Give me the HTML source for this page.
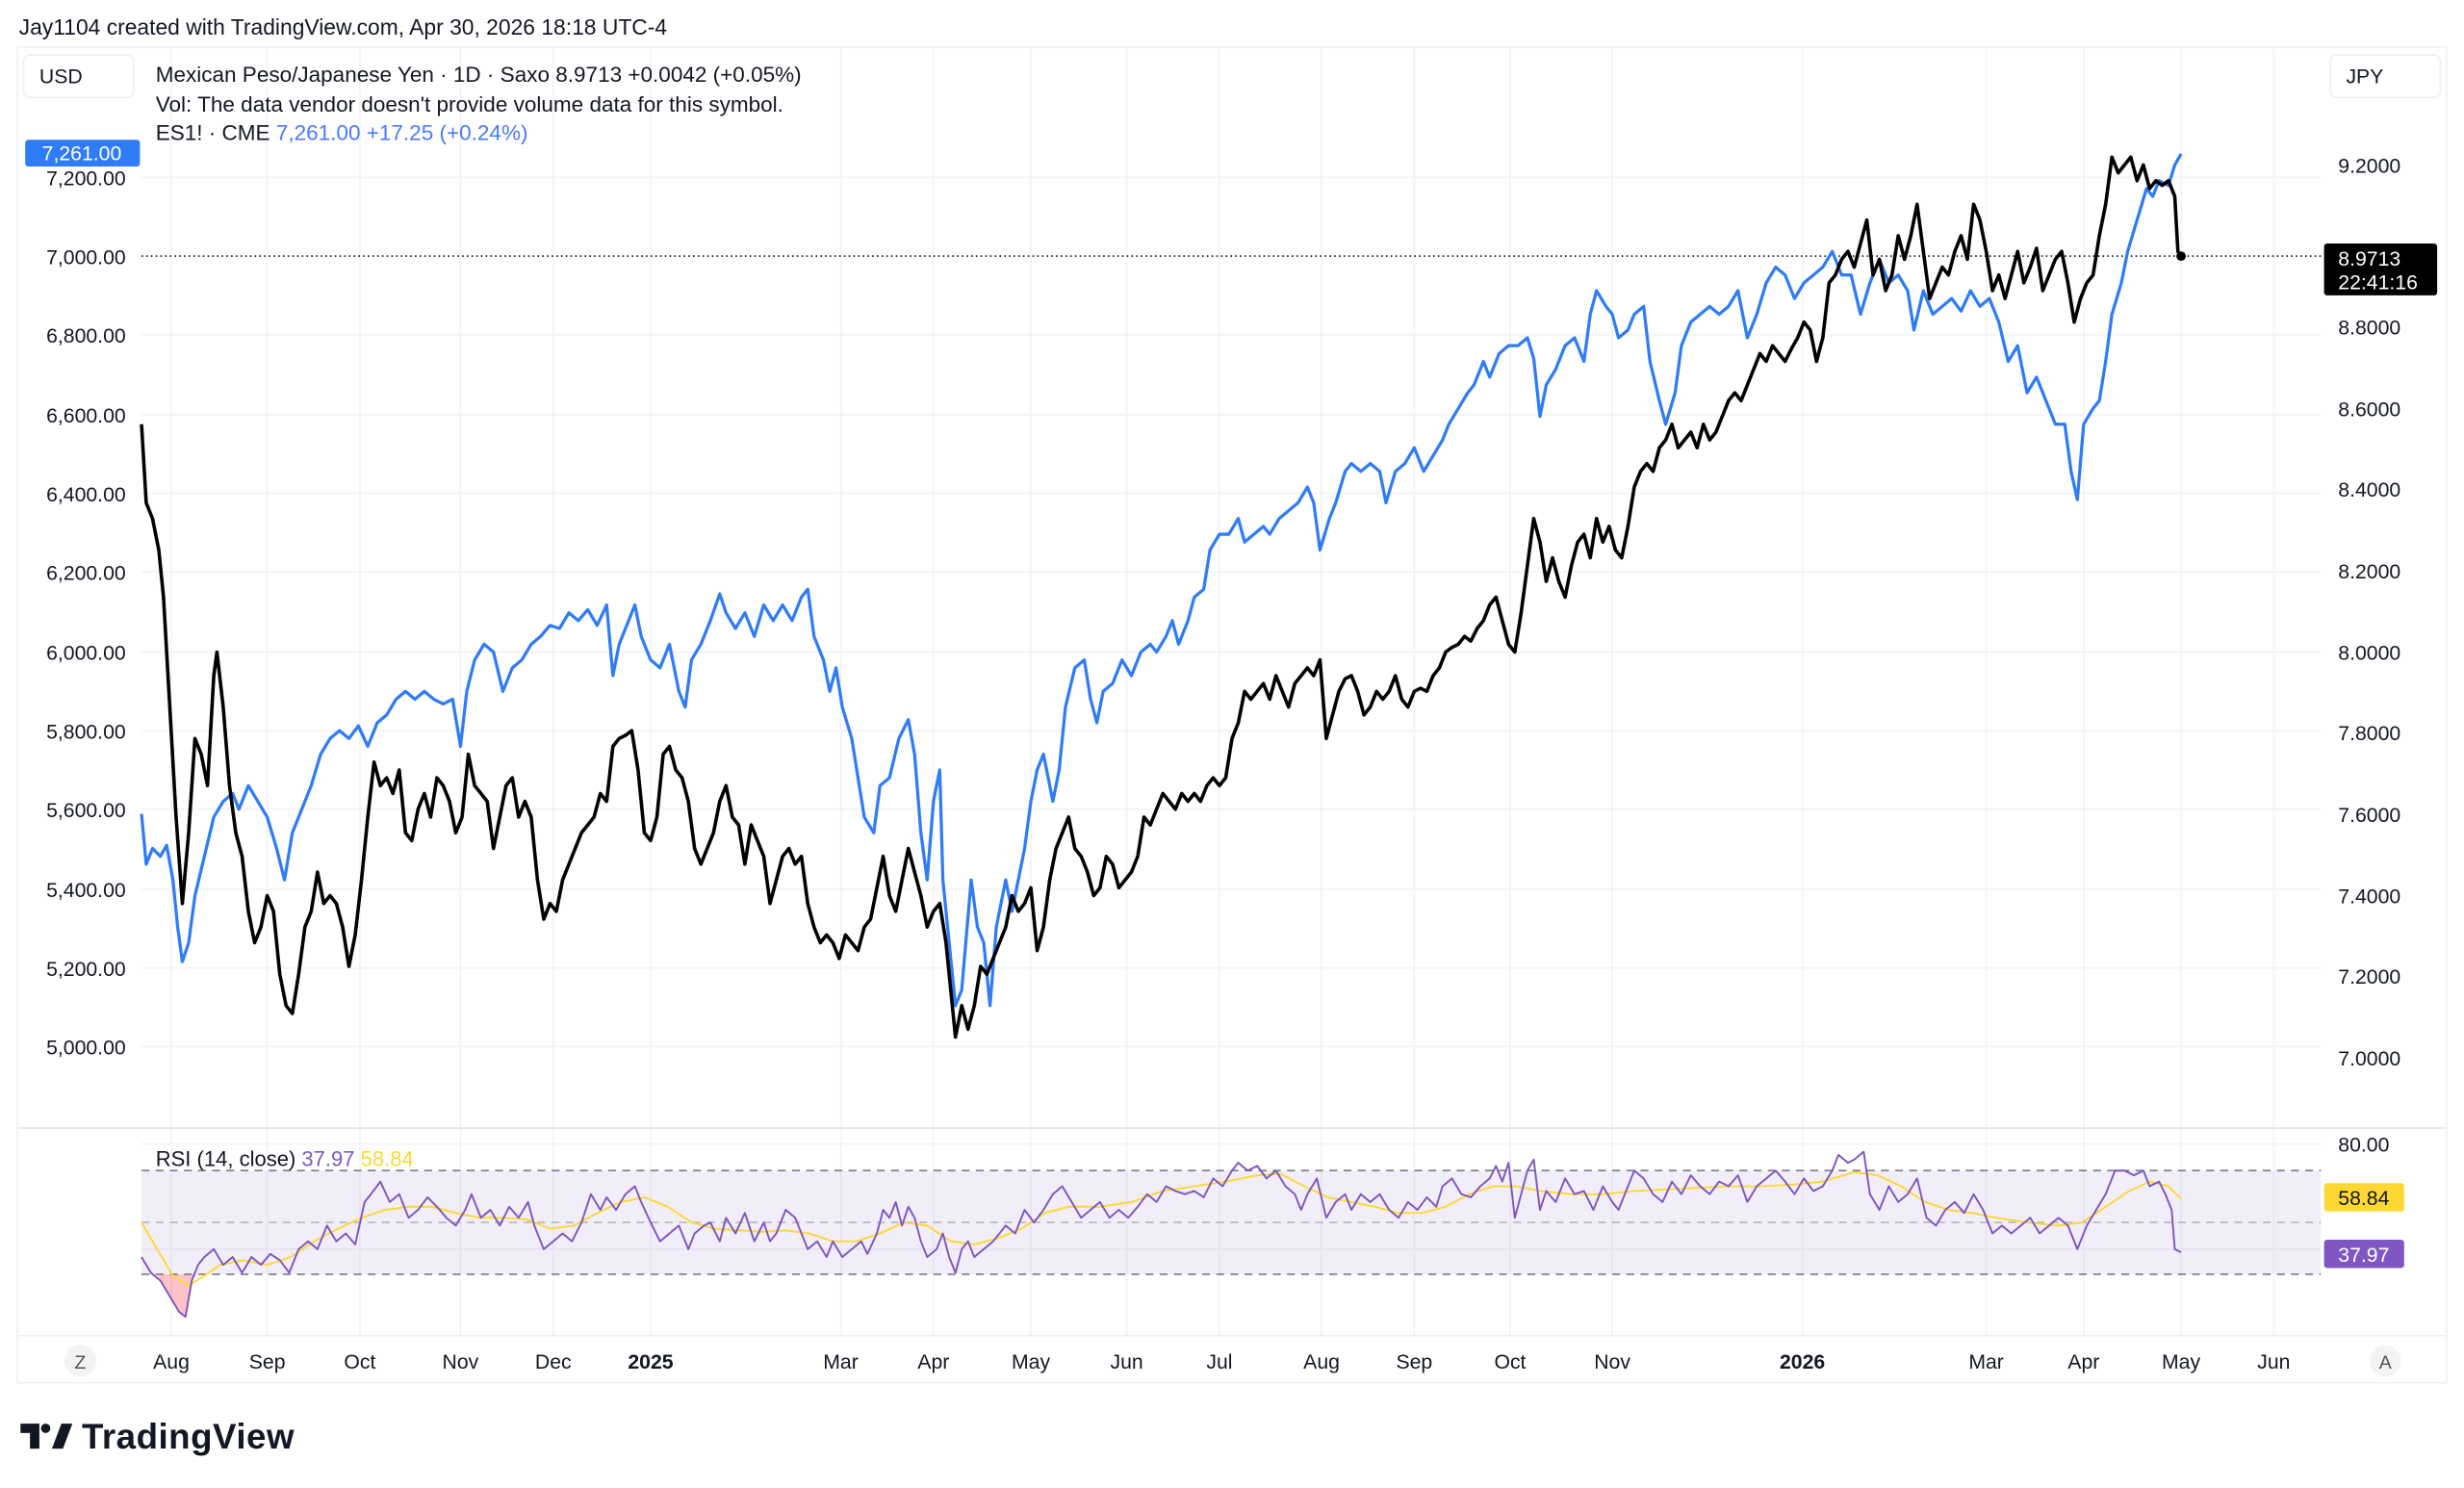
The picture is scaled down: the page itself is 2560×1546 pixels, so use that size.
<!DOCTYPE html>
<html><head><meta charset="utf-8"><style>
html,body{margin:0;padding:0;background:#fff;}
svg{display:block;font-family:"Liberation Sans",sans-serif;}
</style></head><body>
<svg width="2560" height="1546" viewBox="0 0 1568 947" xmlns="http://www.w3.org/2000/svg">
<rect width="1568" height="947" fill="#fff"/>
<text x="12" y="22" font-size="14" fill="#131722">Jay1104 created with TradingView.com, Apr 30, 2026 18:18 UTC-4</text>
<rect x="11" y="30" width="1546" height="850" fill="none" stroke="#eef0f3" stroke-width="1"/>
<g stroke="#f2f3f5" stroke-width="1">
<line x1="109" y1="30" x2="109" y2="850"/><line x1="170" y1="30" x2="170" y2="850"/><line x1="229" y1="30" x2="229" y2="850"/><line x1="293" y1="30" x2="293" y2="850"/><line x1="352" y1="30" x2="352" y2="850"/><line x1="414" y1="30" x2="414" y2="850"/><line x1="535" y1="30" x2="535" y2="850"/><line x1="594" y1="30" x2="594" y2="850"/><line x1="656" y1="30" x2="656" y2="850"/><line x1="717" y1="30" x2="717" y2="850"/><line x1="776" y1="30" x2="776" y2="850"/><line x1="841" y1="30" x2="841" y2="850"/><line x1="900" y1="30" x2="900" y2="850"/><line x1="961" y1="30" x2="961" y2="850"/><line x1="1026" y1="30" x2="1026" y2="850"/><line x1="1147" y1="30" x2="1147" y2="850"/><line x1="1264" y1="30" x2="1264" y2="850"/><line x1="1326" y1="30" x2="1326" y2="850"/><line x1="1388" y1="30" x2="1388" y2="850"/><line x1="1447" y1="30" x2="1447" y2="850"/>
<line x1="90" y1="113" x2="1477" y2="113"/><line x1="90" y1="213" x2="1477" y2="213"/><line x1="90" y1="264" x2="1477" y2="264"/><line x1="90" y1="314" x2="1477" y2="314"/><line x1="90" y1="364" x2="1477" y2="364"/><line x1="90" y1="415" x2="1477" y2="415"/><line x1="90" y1="465" x2="1477" y2="465"/><line x1="90" y1="515" x2="1477" y2="515"/><line x1="90" y1="566" x2="1477" y2="566"/><line x1="90" y1="616" x2="1477" y2="616"/><line x1="90" y1="666" x2="1477" y2="666"/>
<line x1="90" y1="728" x2="1477" y2="728"/><line x1="90" y1="795" x2="1477" y2="795"/>
</g>
<line x1="11" y1="718" x2="1557" y2="718" stroke="#e6e8ec" stroke-width="1.2"/>
<line x1="11" y1="850" x2="1557" y2="850" stroke="#eef0f3" stroke-width="1"/>
<rect x="90" y="745" width="1387" height="66" fill="#7e57c2" fill-opacity="0.1"/>
<g stroke="#787b86" stroke-width="1" stroke-dasharray="5,4">
<line x1="90" y1="745" x2="1477" y2="745"/><line x1="90" y1="811" x2="1477" y2="811"/><line x1="90" y1="778" x2="1477" y2="778" stroke-opacity="0.5"/>
</g>
<path d="M100,811 L108,825 L114,835 L118,838 L122,815 L125,811 Z" fill="#f23645" fill-opacity="0.3"/>
<line x1="90" y1="163" x2="1477" y2="163" stroke="#131722" stroke-width="1" stroke-dasharray="1,2"/>
<g font-size="13" fill="#131722" text-anchor="end">
<text x="80" y="118">7,200.00</text><text x="80" y="168">7,000.00</text><text x="80" y="218">6,800.00</text><text x="80" y="269">6,600.00</text><text x="80" y="319">6,400.00</text><text x="80" y="369">6,200.00</text><text x="80" y="420">6,000.00</text><text x="80" y="470">5,800.00</text><text x="80" y="520">5,600.00</text><text x="80" y="571">5,400.00</text><text x="80" y="621">5,200.00</text><text x="80" y="671">5,000.00</text>
</g>
<g font-size="13" fill="#131722">
<text x="1488" y="110">9.2000</text><text x="1488" y="213">8.8000</text><text x="1488" y="265">8.6000</text><text x="1488" y="316">8.4000</text><text x="1488" y="368">8.2000</text><text x="1488" y="420">8.0000</text><text x="1488" y="471">7.8000</text><text x="1488" y="523">7.6000</text><text x="1488" y="575">7.4000</text><text x="1488" y="626">7.2000</text><text x="1488" y="678">7.0000</text><text x="1488" y="733">80.00</text>
</g>
<rect x="15" y="35" width="70" height="27" rx="4" fill="#fff" stroke="#eef0f3"/>
<text x="25" y="53" font-size="13" fill="#131722">USD</text>
<rect x="1483" y="35" width="70" height="27" rx="4" fill="#fff" stroke="#eef0f3"/>
<text x="1493" y="53" font-size="13" fill="#131722">JPY</text>
<text x="99" y="52" font-size="13.8" fill="#131722">Mexican Peso/Japanese Yen · 1D · Saxo  8.9713  +0.0042 (+0.05%)</text>
<text x="99" y="71" font-size="13.8" fill="#131722">Vol: The data vendor doesn't provide volume data for this symbol.</text>
<text x="99" y="89" font-size="13.8" fill="#131722">ES1! · CME  <tspan fill="#2962ff" fill-opacity="0.85">7,261.00  +17.25 (+0.24%)</tspan></text>
<text x="99" y="742" font-size="13.5" fill="#131722">RSI (14, close)  <tspan fill="#7e57c2">37.97</tspan>  <tspan fill="#fdd835">58.84</tspan></text>
<polyline fill="none" stroke="#2f7cf6" stroke-width="2" stroke-linejoin="round" points="90,518 93,550 97,540 102,545 106,538 110,560 113,590 116,612 120,600 124,570 130,545 136,520 142,510 148,505 152,515 158,500 164,510 170,520 176,540 181,560 186,530 192,515 198,500 204,480 210,470 216,465 222,470 228,462 234,475 240,460 246,455 252,445 258,440 264,445 270,440 276,445 282,448 288,445 293,475 297,440 302,420 308,410 314,415 320,440 326,425 332,420 338,410 344,405 350,398 356,400 362,390 368,395 374,388 380,398 386,385 390,430 394,410 398,400 404,385 408,405 414,420 420,425 426,410 432,440 436,450 440,420 446,410 452,395 458,378 462,390 468,400 474,390 480,405 486,385 492,395 498,385 504,395 510,380 514,375 518,405 524,420 528,440 532,425 536,450 542,470 546,495 550,520 556,530 560,500 566,495 572,470 578,458 582,480 586,530 590,560 594,510 598,490 600,560 604,600 608,640 612,630 618,560 622,590 626,600 630,640 634,590 640,560 644,580 648,560 652,540 656,510 660,490 664,480 670,510 674,490 678,450 684,425 690,420 694,445 698,460 702,440 708,435 714,420 720,430 726,415 732,410 736,415 742,405 746,395 750,410 756,395 760,380 766,375 770,350 776,340 782,340 788,330 792,345 798,340 804,335 808,340 814,330 820,325 826,320 832,310 836,320 840,350 846,330 850,320 856,300 860,295 866,300 872,295 878,300 882,320 888,300 894,295 900,285 906,300 912,290 918,280 922,270 928,260 934,250 938,245 944,230 948,240 954,225 960,220 966,220 972,215 976,228 980,265 984,245 990,235 996,220 1002,215 1008,230 1012,200 1016,185 1022,195 1026,200 1030,215 1036,210 1040,200 1046,195 1050,230 1056,255 1060,270 1066,250 1070,220 1076,205 1082,200 1088,195 1094,200 1100,195 1106,185 1112,215 1118,200 1124,180 1130,170 1136,175 1142,190 1148,180 1154,175 1160,170 1166,160 1172,175 1178,175 1184,200 1190,180 1196,165 1202,180 1208,175 1214,185 1218,210 1224,185 1230,200 1236,195 1242,190 1248,198 1254,185 1260,195 1266,190 1272,205 1278,230 1284,220 1290,250 1296,240 1302,255 1308,270 1314,270 1318,300 1322,318 1326,270 1332,260 1336,255 1340,230 1344,200 1350,180 1354,160 1360,140 1366,120 1370,125 1374,115 1380,118 1384,105 1388,98"/>
<polyline fill="none" stroke="#000" stroke-width="2.2" stroke-linejoin="round" points="90,270 93,320 97,330 101,350 104,380 108,450 112,520 116,575 120,530 124,470 128,480 132,500 136,430 138,415 142,450 146,500 150,530 154,545 158,580 162,600 166,590 170,570 174,580 178,620 182,640 186,645 190,620 194,590 198,580 202,555 206,575 210,570 214,575 218,590 222,615 226,595 230,560 234,520 238,485 242,500 246,495 250,505 254,490 258,530 262,535 266,515 270,505 274,520 278,495 282,500 286,510 290,530 294,520 298,480 302,500 306,505 310,510 314,540 318,520 322,500 326,495 330,520 334,510 338,520 342,560 346,585 350,575 354,580 358,560 362,550 366,540 370,530 374,525 378,520 382,505 386,510 390,475 394,470 398,468 402,465 406,490 410,530 414,535 418,520 422,480 426,475 430,490 434,495 438,510 442,540 446,550 450,540 454,530 458,510 462,500 466,520 470,525 474,550 478,525 482,535 486,545 490,575 494,560 498,545 502,540 506,550 510,545 514,575 518,590 522,600 526,595 530,600 534,610 538,595 542,600 546,605 550,590 554,585 558,565 562,545 566,570 570,580 574,560 578,540 582,555 586,570 590,590 594,580 598,575 602,600 606,640 608,660 612,640 616,655 620,640 624,615 628,620 632,610 636,600 640,590 644,570 648,580 652,575 656,565 660,605 664,590 668,560 672,540 676,530 680,520 684,540 688,545 692,555 696,570 700,565 704,545 708,550 712,565 716,560 720,555 724,545 728,520 732,525 736,515 740,505 744,510 748,515 752,505 756,510 760,505 764,510 768,500 772,495 776,500 780,495 784,470 788,460 792,440 796,445 800,440 804,435 808,445 812,430 816,440 820,450 824,435 828,430 832,425 836,430 840,420 844,470 848,455 852,440 856,432 860,430 864,440 868,455 872,450 876,440 880,445 884,440 888,430 892,445 896,450 900,440 904,438 908,440 912,430 916,425 920,415 924,412 928,410 932,405 936,408 940,400 944,395 948,385 952,380 956,395 960,410 964,415 968,390 972,360 976,330 980,345 984,370 988,355 992,370 996,380 1000,360 1004,345 1008,340 1012,355 1016,330 1020,345 1024,335 1028,350 1032,355 1036,335 1040,310 1044,300 1048,295 1052,300 1056,285 1060,280 1064,270 1068,285 1072,280 1076,275 1080,285 1084,270 1088,280 1092,275 1096,265 1100,255 1104,250 1108,255 1112,245 1116,235 1120,225 1124,230 1128,220 1132,225 1136,230 1140,222 1144,215 1148,205 1152,210 1156,230 1160,215 1164,180 1168,175 1172,165 1176,160 1180,170 1184,155 1188,140 1192,175 1196,165 1200,185 1204,175 1208,150 1212,165 1216,150 1220,130 1224,160 1228,190 1232,180 1236,170 1240,175 1244,160 1248,150 1252,165 1256,130 1260,140 1264,160 1268,185 1272,175 1276,190 1280,175 1284,160 1288,180 1292,170 1296,158 1300,185 1304,175 1308,165 1312,160 1316,180 1320,205 1324,190 1328,180 1332,175 1336,150 1340,130 1344,100 1348,110 1352,105 1356,100 1360,115 1364,105 1368,120 1372,115 1376,118 1380,115 1384,125 1386,160 1388,163"/>
<circle cx="1388" cy="163" r="3" fill="#000"/>
<polyline fill="none" stroke="#fdd835" stroke-width="1.2" points="90,778 100,795 110,812 120,818 130,812 140,805 155,802 170,805 185,800 200,790 215,782 230,775 245,770 260,768 275,768 290,772 305,775 320,775 335,776 350,782 365,780 380,772 395,765 410,762 425,768 440,778 455,782 470,783 485,784 500,783 515,785 530,790 545,790 560,785 575,778 590,780 605,790 620,792 635,788 650,782 665,772 680,768 700,768 720,765 740,758 760,755 780,752 800,748 815,747 830,755 845,762 860,765 875,768 890,772 905,772 920,768 935,760 950,755 965,755 980,758 1000,760 1020,760 1040,758 1060,757 1080,756 1100,755 1120,755 1140,754 1160,752 1180,746 1195,748 1210,755 1225,765 1240,770 1255,772 1270,775 1290,778 1310,780 1325,778 1340,768 1355,758 1368,752 1380,755 1388,763"/>
<polyline fill="none" stroke="#7e57c2" stroke-width="1.2" stroke-linejoin="round" points="90,800 96,810 102,815 108,825 114,835 118,838 122,815 126,805 130,800 136,795 142,805 148,800 154,810 160,800 166,805 172,798 178,802 184,810 190,795 196,790 202,795 208,780 214,790 220,785 226,792 232,765 236,760 242,752 248,765 254,760 260,775 266,770 272,762 278,768 284,775 290,780 296,770 300,760 306,775 312,770 318,780 324,768 330,775 336,765 340,780 346,795 352,790 358,785 364,790 370,778 376,760 382,770 386,762 392,770 398,760 404,755 408,765 414,778 420,790 426,785 432,780 438,795 442,785 448,780 452,778 458,790 462,775 468,785 474,772 480,790 486,778 490,790 494,785 500,770 506,775 510,785 514,795 520,790 526,800 530,790 536,800 542,795 548,790 552,798 558,785 562,770 566,775 570,765 574,780 578,768 582,775 586,790 590,800 596,795 600,785 604,800 608,810 612,795 616,790 620,800 626,795 632,790 640,780 646,785 652,770 658,778 664,770 670,760 676,755 682,765 688,775 694,770 700,765 706,775 712,770 718,775 724,768 730,760 736,765 742,755 748,758 754,760 760,758 766,762 772,750 778,755 784,745 788,740 794,745 800,742 806,750 812,745 818,755 824,760 828,770 832,760 838,750 844,775 850,765 856,760 860,770 866,760 872,765 878,760 884,770 890,775 896,765 902,770 908,762 914,768 918,755 924,750 930,760 936,762 942,755 948,750 952,742 956,752 960,740 964,775 968,760 972,745 976,738 980,770 984,758 990,765 996,750 1002,760 1008,758 1014,770 1020,755 1026,765 1030,770 1036,755 1040,745 1046,750 1052,760 1058,765 1064,752 1070,760 1076,748 1082,755 1088,760 1094,752 1100,755 1106,748 1112,765 1118,755 1124,750 1130,745 1136,752 1142,760 1148,750 1154,758 1160,755 1166,745 1170,735 1176,740 1180,738 1186,733 1190,760 1196,770 1202,755 1208,765 1214,760 1220,750 1226,775 1232,780 1238,770 1244,765 1250,772 1256,760 1262,770 1268,785 1274,780 1280,785 1286,780 1292,775 1298,785 1304,780 1310,775 1316,780 1322,795 1328,780 1334,770 1340,760 1346,745 1352,745 1358,748 1364,745 1368,755 1374,752 1378,760 1382,770 1384,795 1388,797"/>
<rect x="16" y="89" width="73" height="17" rx="2" fill="#2f7cf6"/>
<text x="52" y="102" font-size="13" fill="#fff" text-anchor="middle">7,261.00</text>
<rect x="1479" y="155" width="72" height="33" rx="2" fill="#000"/>
<text x="1488" y="169" font-size="13" fill="#fff">8.9713</text>
<text x="1488" y="184" font-size="13" fill="#fff">22:41:16</text>
<rect x="1479" y="753" width="51" height="18" rx="2" fill="#fdd835"/>
<text x="1488" y="767" font-size="13" fill="#131722">58.84</text>
<rect x="1479" y="789" width="51" height="18" rx="2" fill="#7e57c2"/>
<text x="1488" y="803" font-size="13" fill="#fff">37.97</text>
<g font-size="13" fill="#131722" text-anchor="middle">
<text x="109" y="871">Aug</text><text x="170" y="871">Sep</text><text x="229" y="871">Oct</text><text x="293" y="871">Nov</text><text x="352" y="871">Dec</text><text x="414" y="871" font-weight="bold">2025</text><text x="535" y="871">Mar</text><text x="594" y="871">Apr</text><text x="656" y="871">May</text><text x="717" y="871">Jun</text><text x="776" y="871">Jul</text><text x="841" y="871">Aug</text><text x="900" y="871">Sep</text><text x="961" y="871">Oct</text><text x="1026" y="871">Nov</text><text x="1147" y="871" font-weight="bold">2026</text><text x="1264" y="871">Mar</text><text x="1326" y="871">Apr</text><text x="1388" y="871">May</text><text x="1447" y="871">Jun</text>
</g>
<circle cx="51" cy="866" r="10" fill="#f2f3f5"/><text x="51" y="871" font-size="12" fill="#555" text-anchor="middle">Z</text>
<circle cx="1518" cy="866" r="10" fill="#f2f3f5"/><text x="1518" y="871" font-size="12" fill="#555" text-anchor="middle">A</text>
<g fill="#131722">
<path d="M13,906 h12 v16 h-6 v-10 h-6 z"/>
<circle cx="29" cy="909" r="3"/>
<path d="M33,922 l6,-16 h7 l-6,16 z"/>
</g>
<text x="52" y="922" font-size="22.5" font-weight="bold" fill="#131722" letter-spacing="0.3">TradingView</text>
</svg>
</body></html>
